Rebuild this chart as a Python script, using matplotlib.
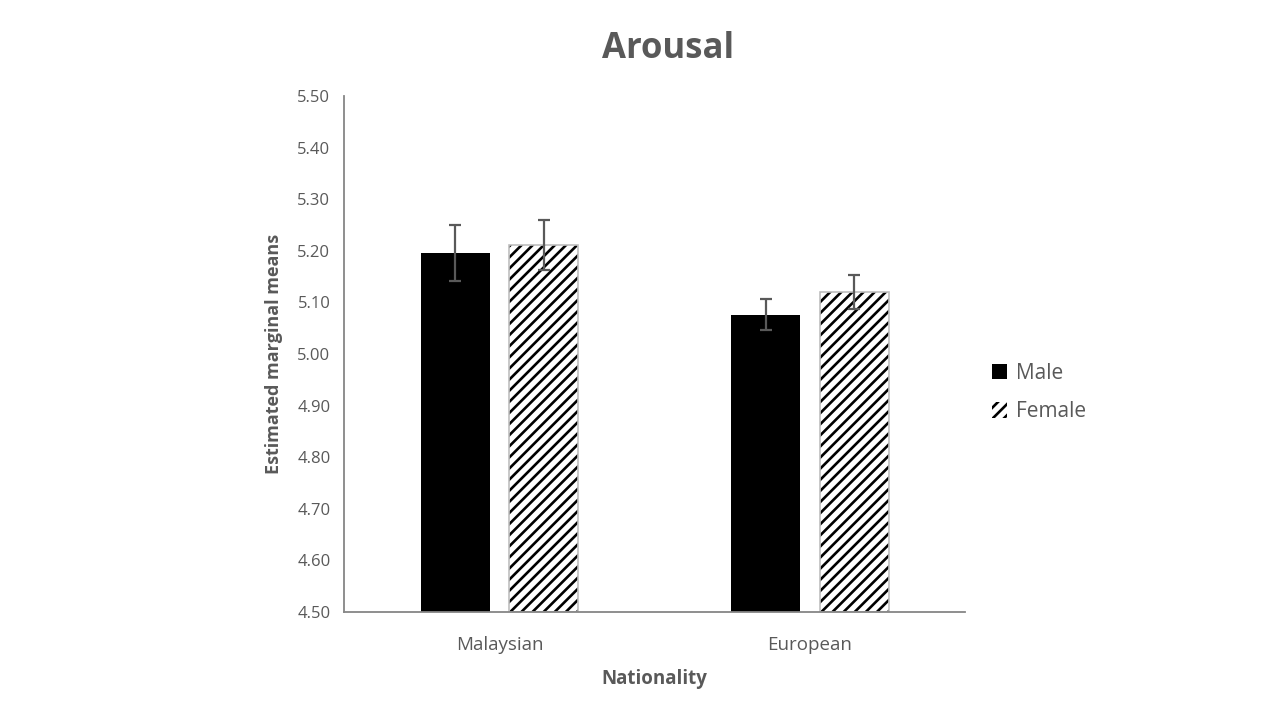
import matplotlib
matplotlib.use("Agg")
import matplotlib.pyplot as plt
import numpy as np

# values
nationalities = ["Malaysian", "European"]
male_means = [5.196, 5.076]
male_err = [0.054, 0.030]
female_means = [5.211, 5.120]
female_err = [0.048, 0.033]
yticks = [4.5, 4.6, 4.7, 4.8, 4.9, 5.0, 5.1, 5.2, 5.3, 5.4, 5.5]

plt.rcParams['font.family'] = ['Open Sans', 'DejaVu Sans']
plt.rcParams['hatch.linewidth'] = 1.9

txt = '#595959'
axis_col = '#868686'

fig = plt.figure(figsize=(12.8, 7.2), dpi=100)
ax = fig.add_axes([0.269, 0.15, 0.485, 0.7167])

x = np.arange(len(nationalities))
w = 0.222
off = (w + 0.064) / 2

ax.bar(x - off, [m - 4.5 for m in male_means], w, bottom=4.5, color='black',
       label='Male', zorder=2)
# hatch takes the edge colour, so draw the black hatch first, then a grey outline
ax.bar(x + off, [m - 4.5 for m in female_means], w, bottom=4.5, facecolor='white',
       edgecolor='black', linewidth=0, hatch='///', label='Female', zorder=2)
ax.bar(x + off, [m - 4.5 for m in female_means], w, bottom=4.5, fill=False,
       edgecolor='#bfbfbf', linewidth=1.2, zorder=2)
ax.errorbar(x - off, male_means, yerr=male_err, fmt='none', ecolor='#595959',
            elinewidth=1.6, capsize=4, capthick=1.6, zorder=3)
ax.errorbar(x + off, female_means, yerr=female_err, fmt='none', ecolor='#595959',
            elinewidth=1.6, capsize=4, capthick=1.6, zorder=3)

ax.set_xlim(-0.5, 1.5)
ax.set_ylim(4.5, 5.5)
ax.set_yticks(yticks)
ax.set_yticklabels([f"{t:.2f}" for t in yticks])
ax.set_xticks(x)
ax.set_xticklabels(nationalities)
ax.tick_params(length=0, labelsize=12, colors=txt, pad=10)
ax.tick_params(axis='x', pad=17, labelsize=13.5)

for s in ['top', 'right']:
    ax.spines[s].set_visible(False)
for s in ['left', 'bottom']:
    ax.spines[s].set_color(axis_col)
    ax.spines[s].set_linewidth(1.3)

ax.set_xlabel('Nationality', fontsize=13.5, fontweight='bold', color=txt, labelpad=11)
ax.set_ylabel('Estimated marginal means', fontsize=13, fontweight='bold', color=txt, labelpad=10)

fig.text(0.522, 0.932, 'Arousal', ha='center', va='center', fontsize=25,
         fontweight='bold', color=txt)

leg = fig.legend(loc='center left', bbox_to_anchor=(0.76, 0.455), frameon=False,
                 fontsize=15, handlelength=0.75, handleheight=0.75, handletextpad=0.4,
                 labelspacing=0.85)
for t in leg.get_texts():
    t.set_color(txt)

fig.savefig('out.png', dpi=100, facecolor='white')
